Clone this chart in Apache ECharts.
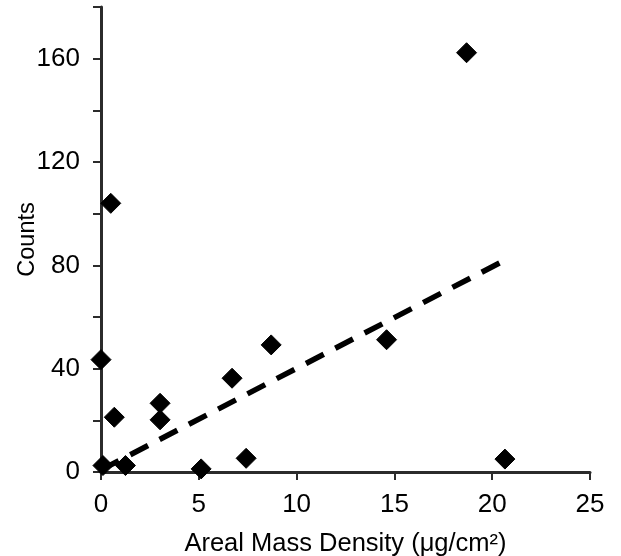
<!DOCTYPE html>
<html>
<head>
<meta charset="utf-8">
<script src="https://cdn.jsdelivr.net/npm/echarts@6/dist/echarts.min.js"></script>
<style>
html,body{margin:0;padding:0;background:#fff;}
#chart{width:621px;height:556px;}
</style>
</head>
<body>
<div id="chart"></div>
<script>
// Areal mass density (µg/cm²) values
const densityX = [0.0, 0.5, 0.1, 0.68, 1.25, 3.02, 3.02, 5.12, 6.7, 7.42, 8.7, 14.6, 18.69, 20.65];
// Counts values
const countsY = [43.5, 104, 2.5, 21.2, 2.5, 26.6, 20.2, 1.2, 36.3, 5.3, 49.2, 51.2, 162.3, 5.0];
// Trend line endpoints
const trendX = [0, 20.65];
const trendY = [0.8, 82];
const xTicks = [0, 5, 10, 15, 20, 25];
const yLabelTicks = [0, 40, 80, 120, 160];

const points = densityX.map((x, i) => [x, countsY[i]]);
const trend = trendX.map((x, i) => [x, trendY[i]]);

const chart = echarts.init(document.getElementById('chart'), null, {renderer: 'canvas'});
const axisColor = '#2b2b2b';
const font = '"Liberation Sans", Arial, sans-serif';
chart.setOption({
  animation: false,
  backgroundColor: '#ffffff',
  grid: {left: 101, right: 31, top: 7, bottom: 84, containLabel: false, outerBoundsMode: 'none'},
  xAxis: {
    type: 'value', min: 0, max: 25, interval: 5,
    name: 'Areal Mass Density (μg/cm²)', nameLocation: 'middle', nameGap: 59, nameMoveOverlap: false,
    nameTextStyle: {fontFamily: font, fontSize: 25.5, color: '#000'},
    axisLine: {show: true, onZero: false, lineStyle: {color: axisColor, width: 3}},
    axisTick: {show: true, length: 8, lineStyle: {color: axisColor, width: 2}},
    splitLine: {show: false},
    axisLabel: {margin: 20, fontFamily: font, fontSize: 26, color: '#000',
      formatter: v => xTicks.includes(v) ? String(v) : ''}
  },
  yAxis: {
    type: 'value', min: 0, max: 180, interval: 20,
    name: 'Counts', nameLocation: 'middle', nameGap: 61, nameRotate: 90, nameMoveOverlap: false,
    nameTextStyle: {fontFamily: font, fontSize: 23.5, color: '#000'},
    axisLine: {show: true, onZero: false, lineStyle: {color: axisColor, width: 3}},
    axisTick: {show: true, length: 8, lineStyle: {color: axisColor, width: 2}},
    splitLine: {show: false},
    axisLabel: {margin: 21, fontFamily: font, fontSize: 26, color: '#000',
      formatter: v => yLabelTicks.includes(v) ? String(v) : ''}
  },
  series: [
    {
      type: 'line', data: trend, symbol: 'none', silent: true, z: 2,
      lineStyle: {color: '#000', width: 5.5, type: [20, 13], cap: 'butt'}
    },
    {
      type: 'scatter', data: points, symbol: 'diamond', symbolSize: 20, z: 3,
      itemStyle: {color: '#000', opacity: 1, borderColor: '#000', borderWidth: 1, borderJoin: 'round'}
    }
  ]
});
</script>
</body>
</html>
